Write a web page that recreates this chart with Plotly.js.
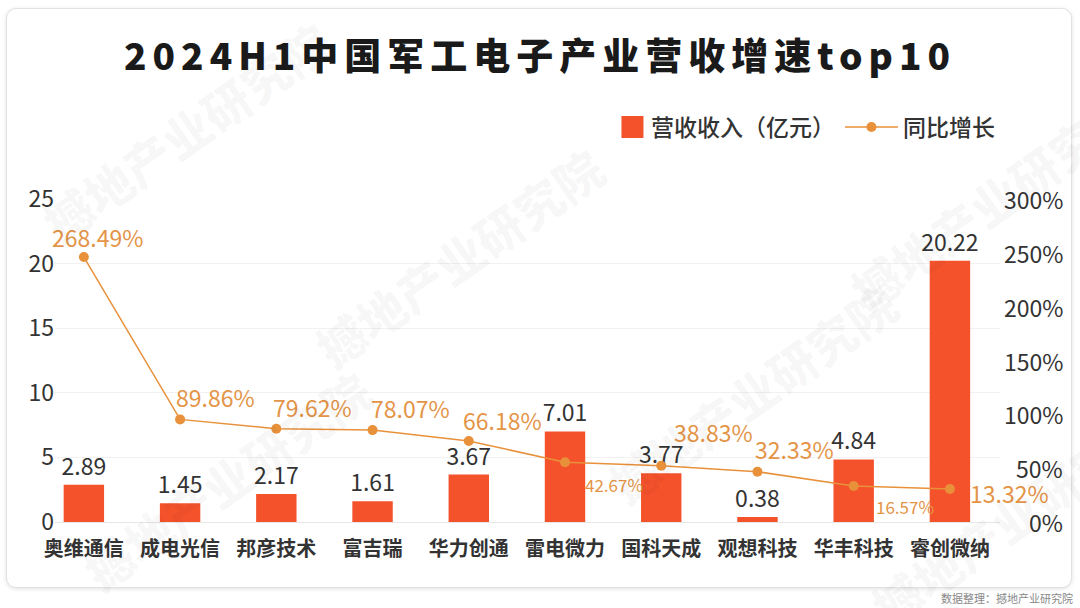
<!DOCTYPE html>
<html>
<head>
<meta charset="utf-8">
<script src="https://cdn.plot.ly/plotly-3.0.1.min.js"></script>
<style>
  html, body { margin: 0; padding: 0; background: #fff; }
  #card {
    position: absolute; left: 6px; top: 8px; width: 1064px; height: 578px;
    border: 1px solid #e2e2e2; border-radius: 10px;
    box-shadow: 0 1px 4px rgba(0,0,0,0.12); background: #fff;
  }
  #chart { position: absolute; left: 0; top: 0; width: 1080px; height: 608px; }
  .gtitle { letter-spacing: 6px; }
</style>
</head>
<body>
<div id="card"></div>
<div id="chart"></div>
<script>
var companies = ['奥维通信', '成电光信', '邦彦技术', '富吉瑞', '华力创通',
                 '雷电微力', '国科天成', '观想科技', '华丰科技', '睿创微纳'];
var revenue = [2.89, 1.45, 2.17, 1.61, 3.67, 7.01, 3.77, 0.38, 4.84, 20.22];
var growth = [268.49, 89.86, 79.62, 78.07, 66.18, 42.67, 38.83, 32.33, 16.57, 13.32];
var rightTicks = [0, 50, 100, 150, 200, 250, 300];

// where each growth label sits relative to its point (px)
var labelAnchor = ['center', 'left', 'left', 'left', 'left', 'left', 'left', 'left', 'left', 'left'];
var labelDx = [14, -6, -5, -4, -8, 18, 11, -4, 20, 18];
var labelDy = [20, 22, 22, 22, 21, -22, 34, 23, -20, -4];
var labelSize = [23, 23, 23, 23, 23, 17, 23, 23, 17, 23];

var cjk = '"Noto Sans CJK SC", "Noto Sans", sans-serif';
var barColor = '#F4522B';
var lineColor = '#E8913A';
var labelColor = '#E49447';

var bars = {
    x: companies,
    y: revenue,
    name: '营收收入（亿元）',
    type: 'bar',
    width: 0.42,
    marker: {color: barColor},
    texttemplate: '%{y:.2f}',
    textposition: 'outside',
    constraintext: 'none',
    textfont: {size: 23, color: '#333', family: cjk},
    cliponaxis: false,
    hoverinfo: 'x+y'
};

var line = {
    x: companies,
    y: growth,
    name: '同比增长',
    type: 'scatter',
    mode: 'lines+markers',
    yaxis: 'y3',
    line: {color: lineColor, width: 1.5},
    marker: {color: lineColor, size: 10},
    cliponaxis: false
};

var annotations = growth.map(function (g, i) {
    return {
        xref: 'x', yref: 'y3', x: companies[i], y: g,
        text: g.toFixed(2) + '%', showarrow: false,
        xanchor: labelAnchor[i], yanchor: 'middle',
        xshift: labelDx[i], yshift: labelDy[i],
        font: {family: cjk, size: labelSize[i], color: labelColor}
    };
});

// right-hand percentage scale, right-aligned at the card edge
rightTicks.forEach(function (t) {
    annotations.push({
        xref: 'paper', yref: 'y2', x: 1, y: t,
        text: t + '%', showarrow: false,
        xanchor: 'right', yanchor: 'middle',
        font: {family: cjk, size: 23, color: '#333'}
    });
});

// faint diagonal watermark
var wmSpots = [[0.13, 1.21], [0.40, 0.82], [0.17, 0.13], [0.69, 0.40], [0.93, 1.00], [0.95, 0.02]];
wmSpots.forEach(function (p) {
    annotations.push({
        xref: 'paper', yref: 'paper', x: p[0], y: p[1],
        xanchor: 'center', yanchor: 'middle',
        text: '撼地产业研究院', showarrow: false, textangle: -35,
        font: {family: cjk, size: 48, weight: 900, color: 'rgba(0,0,0,0.035)'}
    });
});
annotations.push({
    xref: 'paper', yref: 'paper', x: 1.0099, y: -0.235,
    xanchor: 'right', yanchor: 'middle', showarrow: false,
    text: '数据整理：撼地产业研究院',
    font: {family: cjk, size: 11, color: '#888'}
});

var layout = {
    width: 1080,
    height: 608,
    margin: {l: 55, r: 15, t: 199, b: 86},
    paper_bgcolor: 'rgba(0,0,0,0)',
    plot_bgcolor: 'rgba(0,0,0,0)',
    font: {family: cjk, color: '#333'},
    title: {
        text: '2024H1中国军工电子产业营收增速top10',
        font: {family: cjk, size: 37, weight: 900, color: '#1a1a1a'},
        x: 0.5, xanchor: 'center',
        y: 0.906, yanchor: 'middle', yref: 'container'
    },
    showlegend: true,
    legend: {
        orientation: 'h',
        x: 0.9356, xanchor: 'right',
        y: 1.223, yanchor: 'middle',
        itemwidth: 53,
        font: {size: 23, color: '#333', weight: 500},
        bgcolor: 'rgba(0,0,0,0)'
    },
    xaxis: {
        domain: [0, 0.9356],
        range: [-0.3, 9.52],
        showgrid: false,
        showline: false,
        ticks: '',
        tickfont: {size: 20, color: '#333', weight: 600},
        ticklabelstandoff: 13
    },
    yaxis: {
        range: [0, 25],
        dtick: 5,
        showgrid: true,
        gridcolor: '#f1f1f1',
        zeroline: true,
        zerolinecolor: '#e6e6e6',
        tickfont: {size: 23, color: '#333'},
        ticks: ''
    },
    yaxis2: {
        overlaying: 'y',
        range: [0, 300],
        visible: false
    },
    yaxis3: {
        overlaying: 'y',
        range: [-23, 332.3],
        visible: false
    },
    annotations: annotations
};

// bigger square for the bar legend entry, sitting close to its text
function enlargeLegendSquare() {
    var items = document.querySelectorAll('#chart .legend .traces');
    if (!items.length) return;
    items[0].querySelectorAll('.legendpoints path').forEach(function (p) {
        p.setAttribute('d', 'M24,11H2V-11H24Z');
    });
}

var gd = document.getElementById('chart');
Plotly.newPlot(gd, [bars, line], layout, {displayModeBar: false}).then(function () {
    enlargeLegendSquare();
    gd.on('plotly_afterplot', enlargeLegendSquare);
    setTimeout(enlargeLegendSquare, 50);
});
</script>
</body>
</html>
